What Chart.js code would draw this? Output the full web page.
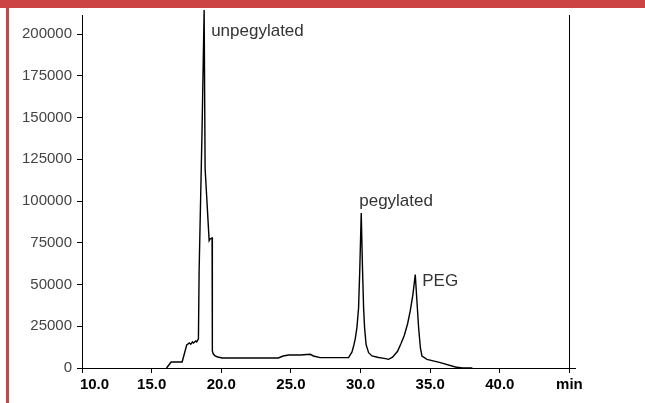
<!DOCTYPE html>
<html>
<head>
<meta charset="utf-8">
<script src="https://cdn.jsdelivr.net/npm/chart.js@4"></script>
<style>
  html, body { margin: 0; padding: 0; background: #fff; }
  #wrap { position: relative; width: 645px; height: 403px; overflow: hidden; background: #fff; }
  #topbar { position: absolute; left: 0; top: 0; width: 645px; height: 8px; background: #cd4444; }
  #leftbar { position: absolute; left: 6px; top: 0; width: 3px; height: 403px; background: #cd4444; }
  canvas { position: absolute; left: 0; top: 0; }
</style>
</head>
<body>
<div id="wrap">
  <canvas id="c" width="645" height="403"></canvas>
  <div id="topbar"></div>
  <div id="leftbar"></div>
</div>
<script>
// ---- data ----
const timeMin = [
  16.07, 16.40, 17.19, 17.52, 17.71, 17.81, 17.93, 18.00, 18.17, 18.24, 18.36,
  18.41, 18.62, 18.77, 18.84, 19.13, 19.20, 19.34, 19.36, 19.42, 19.55, 19.75, 20.06,
  24.09, 24.45, 24.83, 25.67, 26.39, 26.62, 27.10, 29.14, 29.38, 29.50, 29.62, 29.74,
  29.86, 29.95, 30.05, 30.14, 30.22, 30.29, 30.40, 30.58, 30.82, 31.30, 31.70, 32.01,
  32.30, 32.66, 32.90, 33.14, 33.38, 33.57, 33.76, 33.93, 34.05, 34.17, 34.30, 34.41,
  34.77, 35.73, 36.81, 37.31, 38.03
];
const signal = [
  0, 3600, 3600, 13800, 15000, 14200, 15600, 15000, 16200, 15600, 17400,
  58300, 142300, 214400, 119500, 76300, 77300, 77900, 10200, 8500, 7300, 6600, 6000,
  6000, 7200, 7800, 7800, 8200, 7200, 6200, 6200, 9500, 13000, 17500, 24200,
  36000, 60000, 92800, 60000, 36000, 24200, 14000, 9200, 7200, 6300, 5800, 5200,
  6500, 10000, 14500, 19500, 26500, 34200, 44000, 55900, 40000, 24200, 12000, 7200,
  5200, 3200, 600, 0, 0
];
const xTickValues = [10, 15, 20, 25, 30, 35, 40, 45];
const xTickLabels = ['      10.0', '15.0', '20.0', '25.0', '30.0', '35.0', '40.0', 'min'];
const yTickValues = [0, 25000, 50000, 75000, 100000, 125000, 150000, 175000, 200000];
const peakLabels = ['unpegylated', 'pegylated', 'PEG'];
const peakTimes = [18.77, 30.05, 33.93];
const peakValues = [214400, 92800, 55900];

const points = timeMin.map((t, i) => ({ x: t, y: signal[i] }));

const extras = {
  id: 'extras',
  beforeDatasetsDraw(chart) {
    const { ctx, chartArea, scales } = chart;
    const x45 = scales.x.getPixelForValue(45);
    ctx.save();
    ctx.strokeStyle = '#000';
    ctx.lineWidth = 1;
    ctx.beginPath();
    ctx.moveTo(Math.round(x45) + 0.5, chartArea.top);
    ctx.lineTo(Math.round(x45) + 0.5, chartArea.bottom);
    ctx.stroke();
    ctx.restore();
  },
  afterDatasetsDraw(chart) {
    const { ctx, scales } = chart;
    const offs = [[7, 26], [-2, -7], [7, 11]];
    ctx.save();
    ctx.fillStyle = '#333';
    ctx.font = '17px "Liberation Sans", Arial, sans-serif';
    ctx.textBaseline = 'alphabetic';
    ctx.textAlign = 'left';
    peakLabels.forEach((lab, i) => {
      const px = scales.x.getPixelForValue(peakTimes[i]);
      const py = scales.y.getPixelForValue(peakValues[i]);
      ctx.fillText(lab, px + offs[i][0], py + offs[i][1]);
    });
    ctx.restore();
  }
};

new Chart(document.getElementById('c'), {
  type: 'line',
  data: {
    datasets: [{
      data: points,
      borderColor: '#000',
      borderWidth: 1.4,
      pointRadius: 0,
      tension: 0,
      fill: false,
      clip: false
    }]
  },
  options: {
    responsive: false,
    animation: false,
    devicePixelRatio: 1,
    layout: { padding: { top: 15, right: 70, left: 0, bottom: 0 } },
    plugins: { legend: { display: false }, tooltip: { enabled: false } },
    scales: {
      x: {
        type: 'linear',
        min: 10,
        max: 45.4,
        afterBuildTicks: s => { s.ticks = xTickValues.map(v => ({ value: v })); },
        afterFit: s => { s.height = 35; },
        ticks: {
          callback: (v, i) => xTickLabels[i],
          font: { family: '"Liberation Sans", Arial, sans-serif', size: 15, weight: 'bold' },
          color: '#000',
          padding: 3,
          maxRotation: 0,
          autoSkip: false
        },
        grid: { drawOnChartArea: false, drawTicks: true, tickLength: 5, color: '#000' },
        border: { color: '#000', width: 1 }
      },
      y: {
        min: 0,
        max: 211400,
        afterBuildTicks: s => { s.ticks = yTickValues.map(v => ({ value: v })); },
        afterFit: s => { s.width = 82; },
        ticks: {
          callback: v => String(v),
          font: { family: '"Liberation Sans", Arial, sans-serif', size: 15 },
          color: '#444',
          padding: 5,
          autoSkip: false
        },
        grid: { drawOnChartArea: false, drawTicks: true, tickLength: 5, color: '#000' },
        border: { color: '#000', width: 1 }
      }
    }
  },
  plugins: [extras]
});
</script>
</body>
</html>
